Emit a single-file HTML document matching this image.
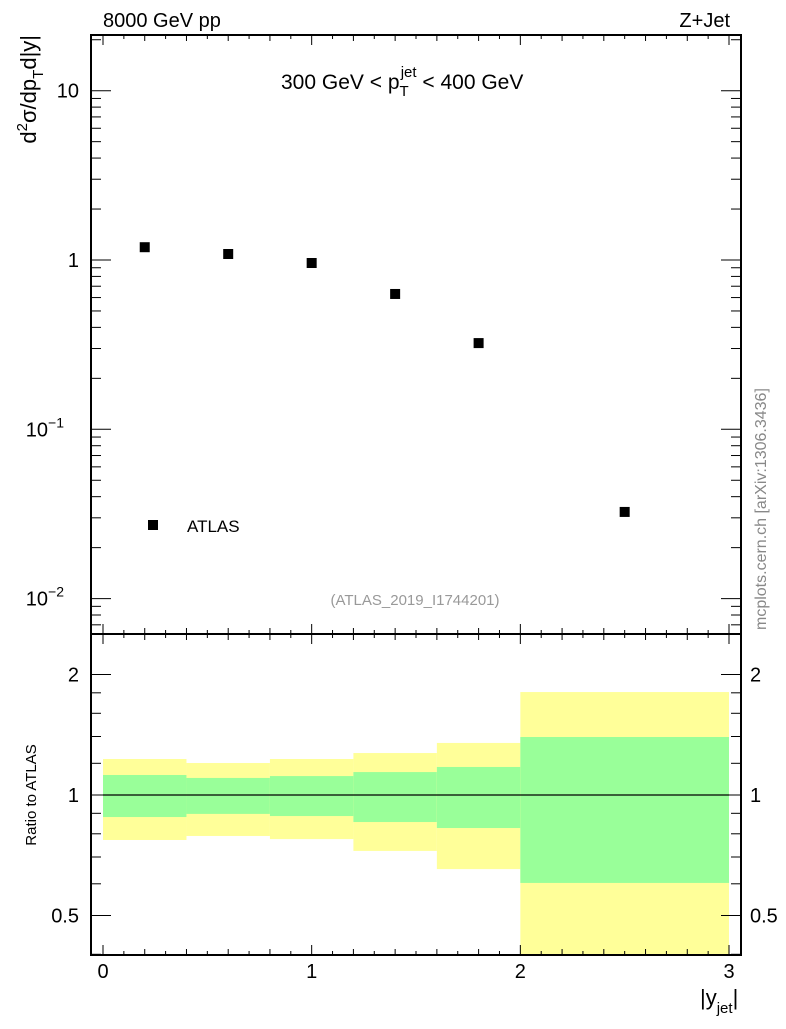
<!DOCTYPE html>
<html><head><meta charset="utf-8"><style>
body{margin:0;background:#fff;}
svg text{font-family:"Liberation Sans",sans-serif;}
</style></head><body>
<svg id="c" width="786" height="1024" xmlns="http://www.w3.org/2000/svg">
<text x="103" y="27" font-size="20">8000 GeV pp</text>
<text x="730" y="27" font-size="20" text-anchor="end">Z+Jet</text>
<text x="281" y="89" font-size="21">300 GeV &lt; p<tspan dy="7" font-size="15">T</tspan><tspan dx="-8" dy="-19" font-size="15">jet</tspan><tspan dy="12"> &lt; 400 GeV</tspan></text>
<text transform="translate(36,35) rotate(-90)" font-size="22" text-anchor="end">d<tspan dy="-9" font-size="15">2</tspan><tspan dy="9">σ/dp</tspan><tspan dy="7" font-size="15">T</tspan><tspan dy="-7">d|y|</tspan></text>
<text transform="translate(36,795) rotate(-90)" font-size="15" text-anchor="middle">Ratio to ATLAS</text>
<text transform="translate(766,630) rotate(-90)" font-size="16" fill="#888">mcplots.cern.ch [arXiv:1306.3436]</text>
<text x="415" y="605" font-size="15" fill="#999" text-anchor="middle">(ATLAS_2019_I1744201)</text>
<rect x="148" y="520" width="10" height="10" fill="#000"/>
<text x="187" y="532" font-size="17">ATLAS</text>
<g id="g"></g>
</svg>
<script>
const xPts=[0.2,0.6,1.0,1.4,1.8,2.5];
const yPts=[1.19,1.085,0.96,0.63,0.323,0.0325];
const binEdges=[0,0.4,0.8,1.2,1.6,2,3];
const yellowHi=[1.23,1.202,1.23,1.273,1.349,1.808];
const greenHi=[1.122,1.103,1.115,1.141,1.175,1.396];
const greenLo=[0.881,0.897,0.886,0.856,0.827,0.603];
const yellowLo=[0.772,0.79,0.776,0.725,0.653,0.3];
const xTicks=[0,1,2,3];
const mainTicks=[[10,"10"],[1,"1"],[0.1,"10"],[0.01,"10"]];
const ratioTicks=[[2,"2"],[1,"1"],[0.5,"0.5"]];

const L=91,R=741,T=35,M=634,B=955;
const X=v=>103+v*208.67;
const Y=v=>260-169.3*Math.log10(v);
const RY=v=>795-120.5*Math.log2(v);
const g=document.getElementById('g');
const NS="http://www.w3.org/2000/svg";
function mk(t,a,p){const e=document.createElementNS(NS,t);for(const k in a)e.setAttribute(k,a[k]);(p||g).appendChild(e);return e;}
function ln(x1,y1,x2,y2,w){return mk('line',{x1,y1,x2,y2,stroke:'#000','stroke-width':w||1});}
for(let i=0;i<yellowHi.length;i++){
 const x1=X(binEdges[i]),x2=X(binEdges[i+1]);
 const yt=Math.max(RY(yellowHi[i]),M),yb=Math.min(RY(yellowLo[i]),B);
 let r=mk('rect',{x:x1,y:yt,width:x2-x1,height:yb-yt,fill:'#ffff99'});
 
 
 const gt=RY(greenHi[i]),gb=RY(greenLo[i]);
 r=mk('rect',{x:x1,y:gt,width:x2-x1,height:gb-gt,fill:'#99ff99'});
 
 
}
ln(X(0),RY(1),X(3),RY(1),1.2);
for(let i=0;i<xPts.length;i++){
 const r=mk('rect',{x:X(xPts[i])-5,y:Y(yPts[i])-5,width:10,height:10,fill:'#000'});
 
 
}
mk('rect',{x:L,y:T,width:R-L,height:M-T,fill:'none',stroke:'#000','stroke-width':2});
mk('rect',{x:L,y:M,width:R-L,height:B-M,fill:'none',stroke:'#000','stroke-width':2});
for(let k=0;k<=30;k++){
 const v=k/10,x=X(v);
 const len=k%10==0?10:(k%2==0?6:4);
 ln(x,B,x,B-len);ln(x,M,x,M-len);ln(x,M,x,M+len);ln(x,T,x,T+len);
}
xTicks.forEach(v=>{const t=mk('text',{x:X(v),y:B+23,'font-size':20,'text-anchor':'middle'});t.textContent=v;
});
for(let e=-3;e<=1;e++)for(let m=1;m<10;m++){
 const v=m*Math.pow(10,e),y=Y(v);if(y<T||y>M)continue;
 const len=m==1?20:10;ln(L,y,L+len,y);ln(R,y,R-len,y);
}
mainTicks.forEach(([v,s],i)=>{const t=mk('text',{x:79,y:Y(v)+7,'font-size':20,'text-anchor':'end'});
 t.textContent=s;if(v<1){const sp=mk('tspan',{dy:-9,'font-size':14},t);sp.textContent=v==0.1?'−1':'−2';t.setAttribute('x',64);}
 });
[0.4,0.5,0.6,0.7,0.8,0.9,1,2].forEach(v=>{const y=RY(v),len=(v==0.5||v==1||v==2)?20:10;ln(L,y,L+len,y);ln(R,y,R-len,y);});
[1.2,1.4,1.6,1.8].forEach(v=>{const y=RY(v);ln(L,y,L+10,y);ln(R,y,R-10,y);});
ratioTicks.forEach(([v,s])=>{
 let t=mk('text',{x:79,y:RY(v)+7,'font-size':20,'text-anchor':'end'});t.textContent=s;
 
 t=mk('text',{x:750,y:RY(v)+7,'font-size':20});t.textContent=s;
 });
const xt=mk('text',{x:700,y:1005,'font-size':22});xt.innerHTML='|y<tspan dy="8" font-size="15">jet</tspan><tspan dy="-8">|</tspan>';


</script>
</body></html>
